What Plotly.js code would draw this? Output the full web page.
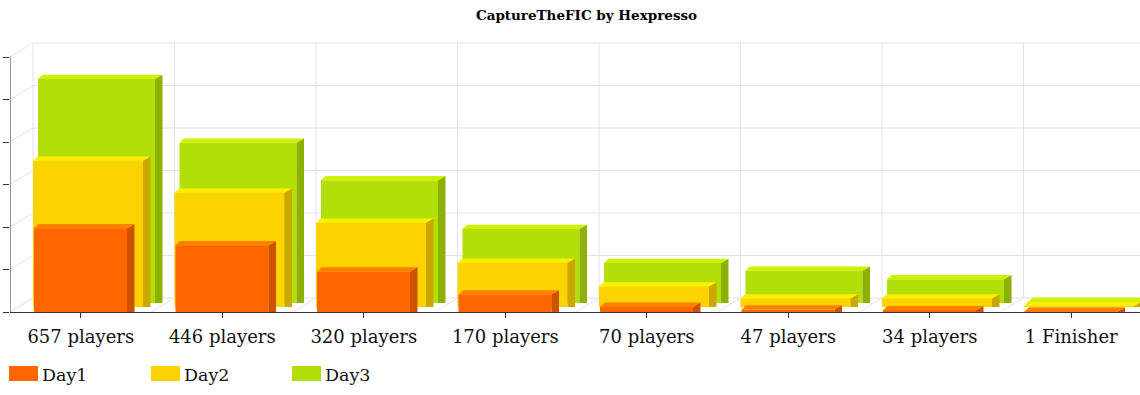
<!DOCTYPE html>
<html>
<head>
<meta charset="utf-8">
<script src="https://cdn.plot.ly/plotly-3.0.1.min.js"></script>
<style>html,body{margin:0;padding:0;background:#fff;}#chart{width:1140px;height:395px;}</style>
</head>
<body>
<div id="chart"></div>
<script>
// ---- data ----
const categories = ['657 players','446 players','320 players','170 players','70 players','47 players','34 players','1 Finisher'];
const seriesNames = ['Day1','Day2','Day3'];
const day1 = [197, 157, 95, 41, 12, 6, 4, 1];
const day2 = [344, 269, 198, 104, 48, 20, 20, 2];
const day3 = [527, 377, 289, 174, 94, 76, 56, 3];
const yTicks = [0, 100, 200, 300, 400, 500, 600];

// ---- geometry / style (pixel -> data conversions) ----
const PXX = 141.5;          // px per category
const PXY = 0.425;          // px per y unit
const fx = p => p / PXX;
const fy = p => p / PXY;
const xMin = -0.5, xMax = -0.5 + 1130 / PXX;
const DX = fx(23), DY = fy(14);          // back-plane depth
const SDX = fx(7.5), SDY = fy(4.3), TDX = fx(4.5); // bar depth

const styles = {
  Day1: {left: 24, width: 93,  lift: 0, front: '#FF6600', side: '#CC5200', top: '#FF8000'},
  Day2: {left: 23, width: 110, lift: 5, front: '#FCD200', side: '#C9A800', top: '#FFEE00'},
  Day3: {left: 28, width: 117, lift: 9, front: '#B1DF07', side: '#8DB004', top: '#CCF200'}
};
const values = {Day1: day1, Day2: day2, Day3: day3};
const idx = categories.map((c, i) => i);

const traces = [];
['Day3', 'Day2', 'Day1'].forEach(name => {
  const st = styles[name], vals = values[name];
  const off = fx(st.left) - 0.5, w = fx(st.width), base = fy(st.lift);
  traces.push({
    type: 'bar', name: name, x: idx, y: vals, base: base,
    offset: off, width: w, showlegend: false,
    marker: {color: st.front, line: {width: 0}},
    hovertemplate: name + ' %{customdata}: %{y}<extra></extra>',
    customdata: categories
  });
  const tx = [], ty = [], sx = [], sy = [];
  vals.forEach((v, i) => {
    const xl = i + off, xr = i + off + w, yb = base, yt = base + v;
    tx.push(xl, xr, xr + SDX, xl + TDX, xl, null);
    ty.push(yt, yt, yt + SDY, yt + SDY, yt, null);
    sx.push(xr, xr, xr + SDX, xr + SDX, xr, null);
    sy.push(yb, yt, yt + SDY, yb, yb, null);
  });
  traces.push({type: 'scatter', mode: 'none', x: sx, y: sy, fill: 'toself', fillcolor: st.side,
    hoverinfo: 'skip', showlegend: false});
  traces.push({type: 'scatter', mode: 'none', x: tx, y: ty, fill: 'toself', fillcolor: st.top,
    hoverinfo: 'skip', showlegend: false});
});

// ---- grid (3D box) ----
const gridColor = '#e2e2e2';
const shapes = [];
for (let i = 0; i <= categories.length; i++) {
  const xb = i - 0.5;
  shapes.push({type: 'line', xref: 'x', yref: 'y', layer: 'below', x0: xb + DX, x1: xb + DX,
    y0: DY, y1: yTicks[yTicks.length - 1] + DY, line: {color: gridColor, width: 1}});
  shapes.push({type: 'line', xref: 'x', yref: 'y', layer: 'below', x0: xb, x1: xb + DX,
    y0: 0, y1: DY, line: {color: gridColor, width: 1}});
}
yTicks.forEach(t => {
  shapes.push({type: 'line', xref: 'x', yref: 'y', layer: 'below', x0: xMin + DX, x1: xMax + 1,
    y0: t + DY, y1: t + DY, line: {color: gridColor, width: 1}});
  shapes.push({type: 'line', xref: 'x', yref: 'y', layer: 'below', x0: xMin, x1: xMin + DX,
    y0: t, y1: t + DY, line: {color: gridColor, width: 1}});
});
// y axis line (front)
shapes.push({type: 'line', xref: 'x', yref: 'y', layer: 'above', x0: xMin, x1: xMin,
  y0: 0, y1: yTicks[yTicks.length - 1], line: {color: '#333', width: 1}});

// ---- custom legend ----
const annotations = [];
const legendX = [9, 151, 292];
seriesNames.forEach((n, k) => {
  const x0 = legendX[k];
  shapes.push({type: 'rect', xref: 'paper', yref: 'paper',
    x0: (x0 - 10) / 1130, x1: (x0 + 29 - 10) / 1130,
    y0: (312 - 366) / 272, y1: (312 - 381) / 272,
    fillcolor: styles[n].front, line: {width: 0}});
  annotations.push({xref: 'paper', yref: 'paper', x: (x0 + 31 - 10) / 1130, y: (312 - 374.5) / 272,
    xanchor: 'left', yanchor: 'middle', showarrow: false, text: n,
    font: {family: 'DejaVu Serif', size: 17.5, color: '#111'}});
});

const layout = {
  width: 1140, height: 395,
  margin: {l: 10, r: 0, t: 40, b: 83},
  paper_bgcolor: '#fff', plot_bgcolor: '#fff',
  barmode: 'overlay',
  showlegend: false,
  title: {text: '<b>CaptureTheFIC by Hexpresso</b>', xref: 'container', yref: 'container',
    x: 586.5 / 1140, y: 1 - 15 / 395, xanchor: 'center', yanchor: 'middle',
    font: {family: 'DejaVu Serif', size: 13.5, color: '#000'}},
  xaxis: {range: [xMin, xMax], tickvals: idx, ticktext: categories, ticks: 'outside', ticklen: 5,
    tickcolor: '#333', showgrid: false, zeroline: false, showline: true, linecolor: '#333', linewidth: 1,
    ticklabelstandoff: 3,
    tickfont: {family: 'DejaVu Serif', size: 18, color: '#111'}, fixedrange: true},
  yaxis: {range: [0, 640], tickvals: yTicks, ticks: 'outside', ticklen: 6, tickcolor: '#333',
    showticklabels: false, showgrid: false, zeroline: false, showline: false, fixedrange: true},
  shapes: shapes,
  annotations: annotations
};

Plotly.newPlot('chart', traces, layout, {displayModeBar: false, staticPlot: false});
</script>
</body>
</html>
